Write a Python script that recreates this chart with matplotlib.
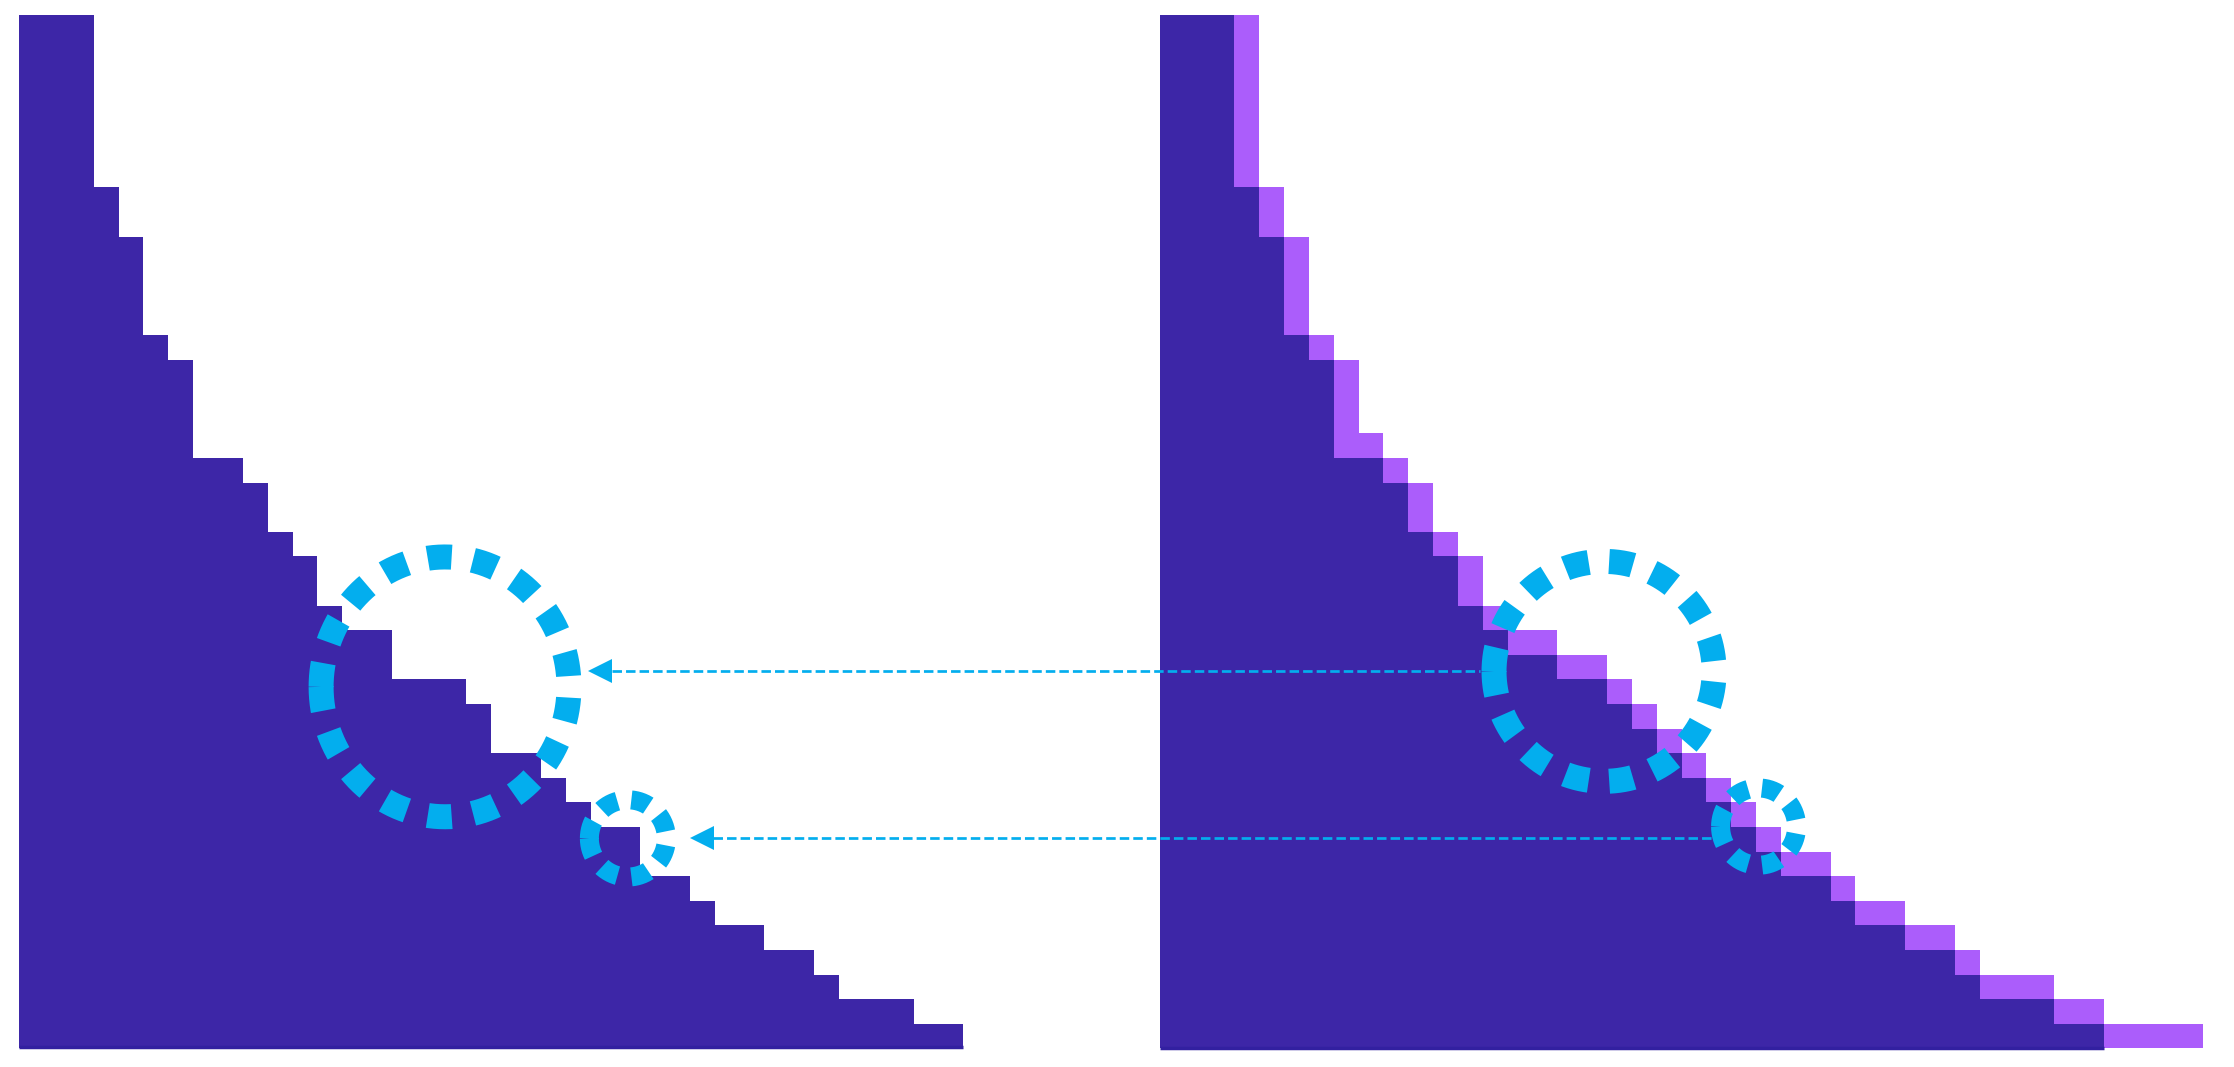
import numpy as np
import matplotlib.pyplot as plt

# column heights (one value per unit-wide column)
left_heights = [42, 42, 42, 35, 33, 29, 28, 24, 24, 23, 21, 20, 18,
                17, 17, 15, 15, 15, 14, 12, 12, 11, 10,
                9, 9, 7, 7, 6, 5, 5, 4, 4, 3, 2, 2, 2, 1, 1]
right_heights = [42, 42, 42, 35, 33, 29, 28, 24, 24, 23, 21, 20, 18,
                 17, 16, 16, 15, 15, 14, 13, 12, 11, 10,
                 9, 8, 7, 7, 6, 5, 5, 4, 4, 3, 2, 2, 2, 1, 1]
right_outer = [42, 42, 42, 42, 35, 33, 29, 28, 25, 24, 23, 21, 20, 18,
               17, 17, 16, 16, 15, 14, 13, 12, 11, 10,
               9, 8, 8, 7, 6, 6, 5, 5, 4, 3, 3, 3, 2, 2, 1, 1, 1, 1]

# highlighted spots: (column, height, x radius, y radius, number of dashes)
left_rings = [(17.14, 14.70, 4.99, 5.28, 17), (24.5, 8.54, 1.55, 1.57, 7)]
right_rings = [(17.88, 15.33, 4.43, 4.47, 15), (24.1, 9.02, 1.53, 1.57, 7)]
# arrows: (height, tip column in left panel, end column in right panel)
arrows = [(15.33, 22.91, 12.88), (8.54, 27.0, 22.27)]

DARK = '#3d26a7'
BASE = '#3220a0'
LIGHT = '#ab5dfb'
CYAN = '#03aeee'
RIGHT_X0 = 45.92  # horizontal offset of the second panel
PX = 0.72         # points per pixel at dpi 100


def draw_stairs(ax, heights, x0, color, z):
    edges = np.arange(len(heights) + 1) + x0
    ax.stairs(heights, edges, baseline=0, fill=True, color=color,
              linewidth=0, zorder=z)


def draw_ring(ax, cx, cy, rx, ry, n, lw_px, dash_px):
    t = np.linspace(np.pi, 3 * np.pi, 720)
    x = cx + rx * np.cos(t)
    y = cy + ry * np.sin(t)
    # arc length in pixels, so that the first and last dash meet on the left
    pts = ax.transData.transform(np.column_stack([x, y]))
    length = np.hypot(*np.diff(pts, axis=0).T).sum()
    gap_px = (length - dash_px) / n - dash_px
    ax.plot(x, y, color=CYAN, lw=lw_px * PX,
            dashes=(dash_px / lw_px, gap_px / lw_px),
            dash_capstyle='butt', solid_capstyle='butt', zorder=6)


fig = plt.figure(figsize=(22.34, 10.67), dpi=100)
ax = fig.add_axes([0, 0, 1, 1])
ax.set_xlim(-0.777, 89.16)
ax.set_ylim(-0.752, 42.62)
ax.axis('off')

draw_stairs(ax, left_heights, 0, DARK, 2)
draw_stairs(ax, right_outer, RIGHT_X0, LIGHT, 1)
draw_stairs(ax, right_heights, RIGHT_X0, DARK, 2)
ax.hlines(0.06, 0, len(left_heights), color=BASE, lw=2.5, zorder=3)
ax.hlines(0.0, RIGHT_X0, RIGHT_X0 + len(right_heights), color=BASE, lw=2.5, zorder=3)

# dashed arrows from the right panel back to the left one
head = 0.94
for y, tip, end in arrows:
    ax.plot([tip + head, RIGHT_X0 + end], [y, y], color=CYAN, lw=1.95,
            dashes=(3.5, 1.5), zorder=4)
    ax.plot([tip + head / 2], [y], marker='<', ms=16.8, color=CYAN,
            markeredgewidth=0, zorder=4)

for i, (cx, cy, rx, ry, n) in enumerate(left_rings):
    lw_px, dash_px = (25, 24) if i == 0 else (19, 18)
    draw_ring(ax, cx, cy, rx, ry, n, lw_px, dash_px)
for i, (cx, cy, rx, ry, n) in enumerate(right_rings):
    lw_px, dash_px = (25, 24) if i == 0 else (19, 18)
    draw_ring(ax, RIGHT_X0 + cx, cy, rx, ry, n, lw_px, dash_px)

fig.savefig('out.png', dpi=100, facecolor='white')
